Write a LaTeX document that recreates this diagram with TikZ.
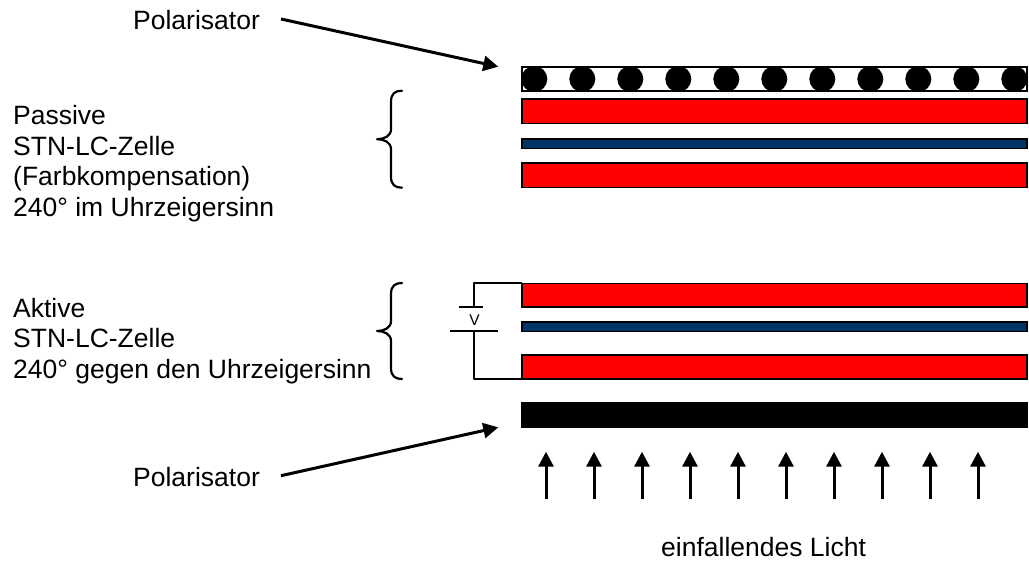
\documentclass[tikz,border=0pt]{standalone}
\usepackage{fontspec}
\setmainfont{Liberation Sans}
\usetikzlibrary{arrows.meta,calc}
\definecolor{cellblue}{RGB}{0,51,102}
\tikzset{
  x=1pt,y=-1pt,
  plate/.style={draw=black,line width=1.6pt,line cap=butt},
  wire/.style={draw=black,line width=2.2pt,line join=round},
  brace/.style={draw=black,line width=2.2pt,line cap=round,line join=round},
  pointer/.style={draw=black,line width=3pt,-{Triangle[length=15pt,width=15pt]}},
  label/.style={font=\fontsize{26.5}{30.4}\selectfont,inner sep=0pt,align=left},
}
\newcommand{\bracket}[3]{% x of tail, top y, bottom y
  \draw[brace] (#1,#2) .. controls (#1-7,#2) and (#1-11,#2+3) .. (#1-11,#2+11)
    -- (#1-11,{(#2+#3)/2-10}) .. controls (#1-11,{(#2+#3)/2-3}) and (#1-18,{(#2+#3)/2}) .. (#1-25,{(#2+#3)/2})
    .. controls (#1-18,{(#2+#3)/2}) and (#1-11,{(#2+#3)/2+3}) .. (#1-11,{(#2+#3)/2+10})
    -- (#1-11,#3-11) .. controls (#1-11,#3-3) and (#1-7,#3) .. (#1,#3);}
\begin{document}
\begin{tikzpicture}
\useasboundingbox (0,0) rectangle (1029,562);
% top stack
\path[plate,fill=white] (522,67) rectangle (1027,91);
\foreach \k in {0,...,10} \fill[black] ({534.3+48*\k},79) circle (13);
\path[plate] (522,67) rectangle (1027,91);
\path[plate,fill=red] (522,99) rectangle (1027,123.3);
\path[plate,fill=cellblue] (522,139) rectangle (1027,148.5);
\path[plate,fill=red] (522,163) rectangle (1027,187.3);
% lower stack
\path[plate,fill=red] (522,283.3) rectangle (1027,306.7);
\path[plate,fill=cellblue] (522,322) rectangle (1027,331.5);
\path[plate,fill=red] (522,355) rectangle (1027,379);
\path[plate,fill=black] (522,403) rectangle (1027,427.5);
% battery
\coordinate (wa) at (522,283.3);
\coordinate (wb) at (474,283.3);
\coordinate (wc) at (474,307);
\coordinate (wd) at (474,331.3);
\coordinate (we) at (474,379);
\coordinate (wf) at (522,379);
\coordinate (p1l) at (459,307);
\coordinate (p1r) at (482.7,307);
\coordinate (p2l) at (450,331.3);
\coordinate (p2r) at (498,331.3);
\draw[wire] (wa) -- (wb) -- (wc);
\draw[wire] (wd) -- (we) -- (wf);
\draw[wire] (p1l) -- (p1r);
\draw[wire] (p2l) -- (p2r);
\node[font=\fontsize{15.5}{17}\selectfont,inner sep=0pt] (vlabel) at (474.5,320.5) {V};
% braces
\bracket{402}{90.7}{187.7}
\bracket{402}{283}{379}
% labels
\node[label,anchor=base west] (pol1) at (133,30) {Polarisator};
\node[label,anchor=base west] (pol2) at (133,486) {Polarisator};
\node[label,anchor=base west] (passive) at (13,216) {Passive\\STN-LC-Zelle\\(Farbkompensation)\\240° im Uhrzeigersinn};
\node[label,anchor=base west] (active) at (13,378.3) {Aktive\\STN-LC-Zelle\\240° gegen den Uhrzeigersinn};
\node[label,anchor=base west] (licht) at (661,556.7) {einfallendes Licht};
% pointers
\coordinate (t1) at (498.3,66.7);
\coordinate (s1) at (281,19);
\coordinate (t2) at (498.3,427.3);
\coordinate (s2) at (281,475.7);
\draw[pointer] (s1) -- (t1);
\draw[pointer] (s2) -- (t2);
% light arrows
\foreach \k in {0,...,9} {
  \coordinate (la\k) at ({546+48*\k},499.3);
  \coordinate (lb\k) at ({546+48*\k},451.7);
  \draw[pointer] (la\k) -- (lb\k);
}
\end{tikzpicture}
\end{document}
